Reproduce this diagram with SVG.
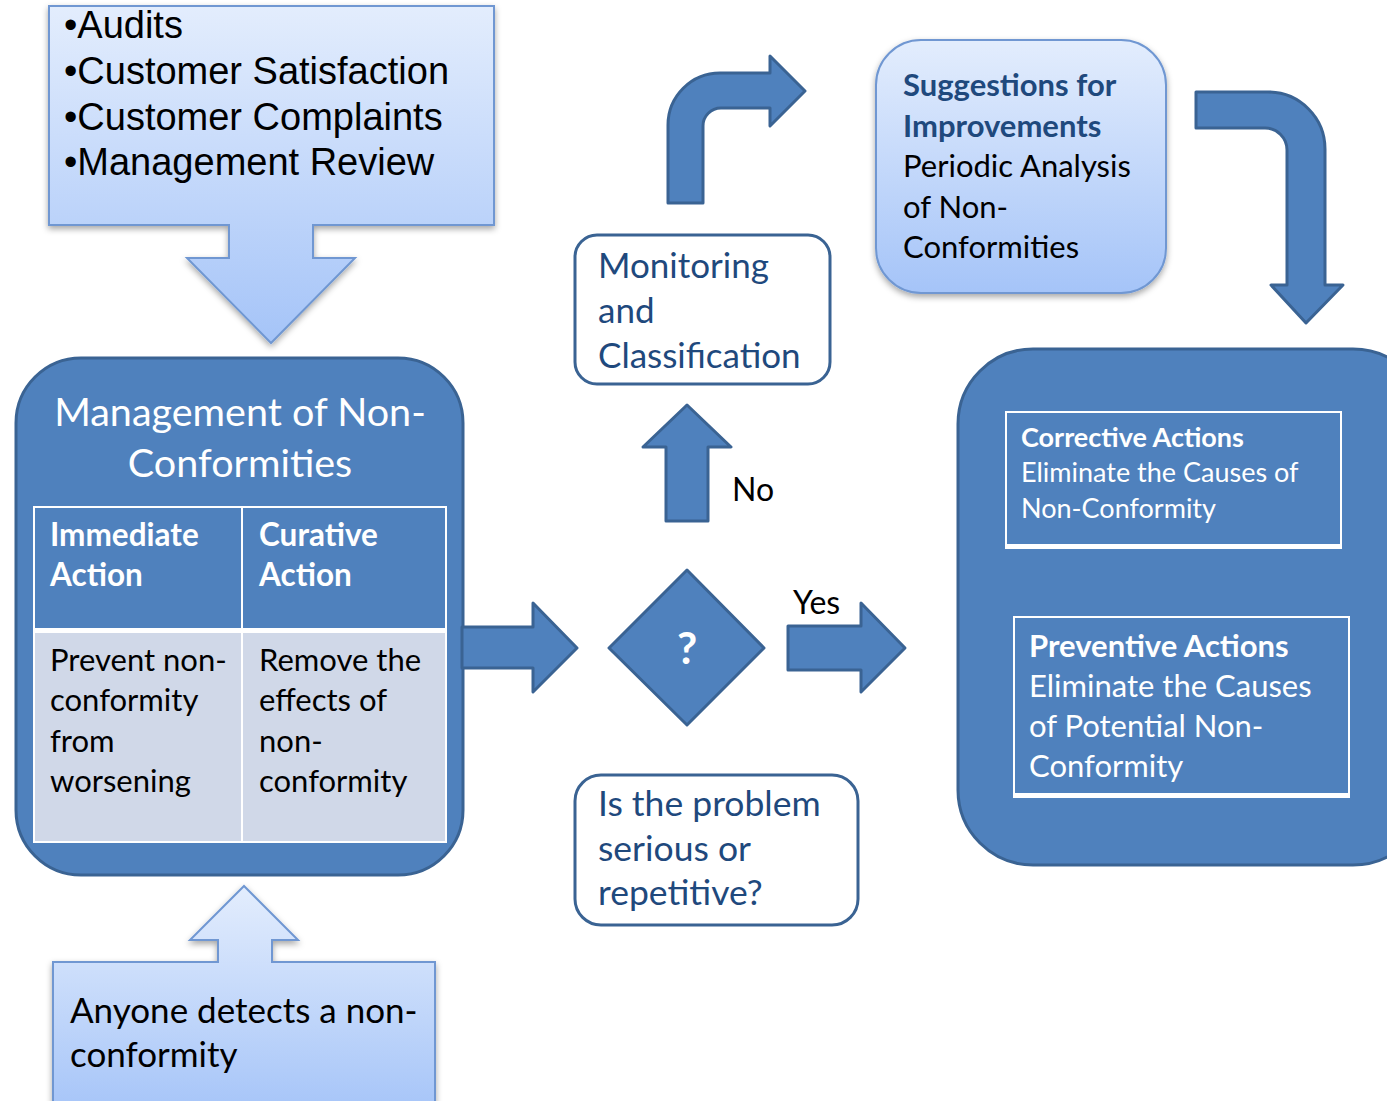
<svg xmlns="http://www.w3.org/2000/svg" width="1387" height="1101" viewBox="0 0 1387 1101">
<defs>
<linearGradient id="lg" x1="0" y1="0" x2="0" y2="1">
<stop offset="0" stop-color="#E3EDFD"/>
<stop offset="1" stop-color="#A5C4F8"/>
</linearGradient>
<filter id="sh" x="-10%" y="-10%" width="120%" height="130%">
<feDropShadow dx="0" dy="3" stdDeviation="3" flood-color="#000" flood-opacity="0.35"/>
</filter>
<style>
.blk{fill:#4F81BD;stroke:#3A6393;stroke-width:3;stroke-linejoin:round}
.light{fill:url(#lg);stroke:#6F97D2;stroke-width:2}
.wbox{fill:#fff;stroke:#3A6393;stroke-width:3}
.ca{font-family:Lato,"Liberation Sans",sans-serif}
.ar{font-family:"Liberation Sans",Arial,sans-serif}
.w{fill:#fff}
.db{fill:#1F497D}
.k{fill:#000}
.b{font-weight:bold}
.tb{fill:none;stroke:#fff;stroke-width:2}
</style>
</defs>

<g id="sources">
<path class="light" filter="url(#sh)" d="M49 6 H494 V225 H313 V258 H355 L271 343 L187 258 H229 V225 H49 Z"/>
<text class="ar k" font-size="38"><tspan x="64" y="38">•Audits</tspan><tspan x="64" y="84">•Customer Satisfaction</tspan><tspan x="64" y="130">•Customer Complaints</tspan><tspan x="64" y="175">•Management Review</tspan></text>
</g>

<g id="management">
<rect class="blk" x="16" y="358" width="447" height="517" rx="65"/>
<text class="ca w" font-size="39.5" text-anchor="middle"><tspan x="240" y="426">Management of Non-</tspan><tspan x="240" y="477">Conformities</tspan></text>
<rect x="33" y="506" width="414" height="122" fill="#4F81BD"/>
<rect x="33" y="633" width="414" height="210" fill="#D0D8E8"/>
<rect x="33" y="628" width="414" height="5" fill="#fff"/>
<rect class="tb" x="34" y="507" width="412" height="335"/>
<line class="tb" x1="242" y1="506" x2="242" y2="843"/>
<text class="ca w b" font-size="31.5"><tspan x="50" y="546">Immediate</tspan><tspan x="50" y="586">Action</tspan></text>
<text class="ca w b" font-size="31.5"><tspan x="259" y="546">Curative</tspan><tspan x="259" y="586">Action</tspan></text>
<text class="ca k" font-size="31"><tspan x="50" y="671">Prevent non-</tspan><tspan x="50" y="711">conformity</tspan><tspan x="50" y="752">from</tspan><tspan x="50" y="792">worsening</tspan></text>
<text class="ca k" font-size="31"><tspan x="259" y="671">Remove the</tspan><tspan x="259" y="711">effects of</tspan><tspan x="259" y="752">non-</tspan><tspan x="259" y="792">conformity</tspan></text>
</g>

<g id="detect">
<path class="light" filter="url(#sh)" d="M53 1115 V962 H218 V940 H190 L244 886 L298 940 H272 V962 H435 V1115 Z"/>
<text class="ca k" font-size="35"><tspan x="70" y="1023">Anyone detects a non-</tspan><tspan x="70" y="1067">conformity</tspan></text>
</g>

<g id="decision">
<path class="blk" d="M687 570 L764 648 L687 725 L609 648 Z"/>
<text class="ca w b" font-size="44" text-anchor="middle" x="687" y="664">?</text>
</g>

<g id="question">
<rect class="wbox" x="575" y="775" width="283" height="150" rx="26"/>
<text class="ca db" font-size="35.5"><tspan x="598" y="816">Is the problem</tspan><tspan x="598" y="861">serious or</tspan><tspan x="598" y="905">repetitive?</tspan></text>
</g>

<g id="monitoring">
<rect class="wbox" x="575" y="235" width="255" height="149" rx="22"/>
<text class="ca db" font-size="35"><tspan x="598" y="278">Monitoring</tspan><tspan x="598" y="323">and</tspan><tspan x="598" y="368">Classification</tspan></text>
</g>

<g id="suggestions">
<rect class="light" filter="url(#sh)" x="876" y="40" width="290" height="253" rx="45"/>
<text class="ca" font-size="31"><tspan class="db b" x="903" y="96">Suggestions for</tspan><tspan class="db b" x="903" y="137">Improvements</tspan><tspan class="k" x="903" y="177">Periodic Analysis</tspan><tspan class="k" x="903" y="218">of Non-</tspan><tspan class="k" x="903" y="258">Conformities</tspan></text>
</g>

<g id="actions">
<rect class="blk" x="958" y="349" width="470" height="516" rx="75"/>
<rect x="1006" y="412" width="335" height="136" fill="#4F81BD" stroke="#fff" stroke-width="2"/>
<rect x="1005" y="544" width="337" height="5" fill="#fff"/>
<text class="ca w" font-size="27"><tspan class="b" x="1021" y="447">Corrective Actions</tspan><tspan x="1021" y="482">Eliminate the Causes of</tspan><tspan x="1021" y="518">Non-Conformity</tspan></text>
<rect x="1014" y="617" width="335" height="180" fill="#4F81BD" stroke="#fff" stroke-width="2"/>
<rect x="1013" y="793" width="337" height="5" fill="#fff"/>
<text class="ca w" font-size="31"><tspan class="b" x="1029" y="657">Preventive Actions</tspan><tspan x="1029" y="697">Eliminate the Causes</tspan><tspan x="1029" y="737">of Potential Non-</tspan><tspan x="1029" y="777">Conformity</tspan></text>
</g>

<g id="connectors">
<path class="blk" d="M462 627 H533 V603 L577 648 L533 692 V668 H462 Z"/>
<path class="blk" d="M788 626 H861 V603 L905 648 L861 692 V670 H788 Z"/>
<path class="blk" d="M666 521 V447 H643 L687 405 L731 447 H708 V521 Z"/>
<path class="blk" d="M668 203 V125 A52 52 0 0 1 720 73 H770 V56 L805 91 L770 126 V108 H721 A18 18 0 0 0 703 126 V203 Z"/>
<path class="blk" d="M1196 92 H1268 A57 57 0 0 1 1325 149 V285 H1343 L1306 323 L1271 285 H1287 V150 A22 22 0 0 0 1265 128 H1196 Z"/>
<text class="ca k" font-size="32" x="732" y="501">No</text>
<text class="ca k" font-size="32" x="793" y="614">Yes</text>
</g>
</svg>
